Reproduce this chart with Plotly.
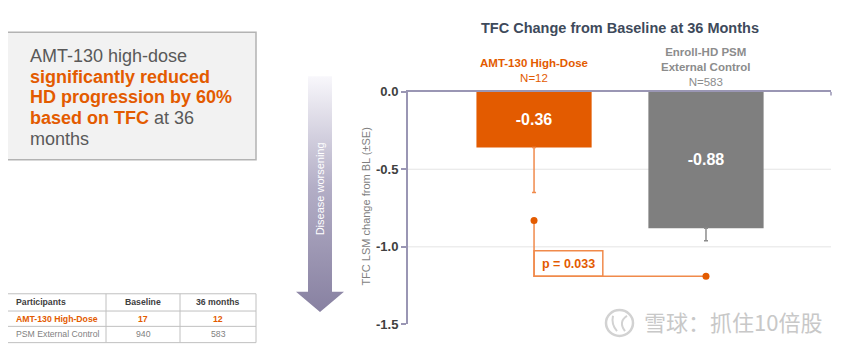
import plotly.graph_objects as go

W, H = 865, 357
OFF = 8  # page body margin seen in the screenshot

# ---------------- data ----------------
groups = ["AMT-130 High-Dose", "Enroll-HD PSM External Control"]
group_n = ["N=12", "N=583"]
tfc_change = [-0.36, -0.88]
tfc_se = [0.29, 0.08]
bar_labels = ["-0.36", "-0.88"]
y_tickvals = [0.0, -0.5, -1.0, -1.5]
y_ticktext = ["0.0", "-0.5", "-1.0", "-1.5"]
grid_vals = [-0.5, -1.0]
p_value_text = "p = 0.033"
bracket_top = -0.83
bracket_bottom = -1.19
table_header = ["Participants", "Baseline", "36 months"]
table_rows = [["AMT-130 High-Dose", "17", "12"],
              ["PSM External Control", "940", "583"]]
box_lines = [
    [("AMT-130 high-dose", False)],
    [("significantly reduced", True)],
    [("HD progression by 60%", True)],
    [("based on TFC", True), (" at 36", False)],
    [("months", False)],
]

# ---------------- styles ----------------
ORANGE = "#E35B00"
ORANGE_LIGHT = "#F08A4B"
GRAY_BAR = "#7F7F7F"
AXIS = "#9A96B4"
TXT = "#595959"
FONT = "Arial, Liberation Sans, sans-serif"


def px(x):
    return (x - OFF) / W


def py(y):
    return 1 - (y - OFF) / H


fig = go.Figure()

bar_colors = [ORANGE, GRAY_BAR]
err_colors = [ORANGE_LIGHT, "#8C8C8C"]
for i in range(2):
    fig.add_trace(go.Bar(
        x=[i], y=[tfc_change[i]], width=0.67,
        marker=dict(color=bar_colors[i], line=dict(width=0)),
        text=[bar_labels[i]], texttemplate="<b>%{text}</b>",
        textposition="inside", insidetextanchor="middle",
        textfont=dict(color="white", size=16, family=FONT),
        error_y=dict(type="data", symmetric=False, array=[0], arrayminus=[tfc_se[i]],
                     color=err_colors[i], thickness=1.5, width=2),
        hoverinfo="skip", showlegend=False,
    ))

# p-value bracket
fig.add_trace(go.Scatter(
    x=[0, 0, 1], y=[bracket_top, bracket_bottom, bracket_bottom], mode="lines",
    line=dict(color=ORANGE_LIGHT, width=1.5), hoverinfo="skip", showlegend=False))
fig.add_trace(go.Scatter(
    x=[0, 1], y=[bracket_top, bracket_bottom], mode="markers",
    marker=dict(color=ORANGE, size=7), hoverinfo="skip", showlegend=False))

# gradient arrow (decoration) in pixel-space axes
ax_x = [308, 332, 332, 344, 320, 296, 308, 308]
ax_y = [72, 72, 297, 297, 318, 297, 297, 72]
fig.add_trace(go.Scatter(
    x=ax_x, y=ax_y, xaxis="x2", yaxis="y2", mode="lines", fill="toself",
    line=dict(color="rgba(0,0,0,0)", width=0),
    fillgradient=dict(type="vertical", start=72, stop=318,
                      colorscale=[[0, "#F8F7FB"], [0.45, "#B3AEC6"], [1, "#847D9E"]]),
    hoverinfo="skip", showlegend=False))

shapes = []
annotations = []

# gridlines
for g in grid_vals:
    shapes.append(dict(type="line", xref="x domain", yref="y", x0=0, x1=1, y0=g, y1=g,
                       line=dict(color="#E4E4E4", width=1), layer="below"))
# small end tick at right end of the top axis line
shapes.append(dict(type="line", xref="x domain", yref="y", x0=1, x1=1, y0=0, y1=-0.025,
                   line=dict(color=AXIS, width=1.5)))

# p box
shapes.append(dict(type="rect", xref="x", yref="y", x0=0, x1=0.40, y0=bracket_bottom, y1=-1.025,
                   line=dict(color=ORANGE_LIGHT, width=1.5)))
annotations.append(dict(xref="x", yref="y", x=0.2, y=(bracket_bottom - 1.025) / 2,
                        text="<b>" + p_value_text + "</b>", showarrow=False,
                        font=dict(size=12.5, color=ORANGE, family=FONT)))

# title
annotations.append(dict(xref="paper", yref="paper", x=px(620), y=py(22),
                        text="<b>TFC Change from Baseline at 36 Months</b>", showarrow=False,
                        xanchor="center", yanchor="middle",
                        font=dict(size=14.5, color="#3E4A5B", family=FONT)))

# group headers
annotations.append(dict(xref="x", yref="paper", x=0, y=py(65.5),
                        text="<b>" + groups[0] + "</b><br>" + group_n[0], showarrow=False,
                        xanchor="center", yanchor="middle",
                        font=dict(size=11.5, color=ORANGE, family=FONT)))
annotations.append(dict(xref="x", yref="paper", x=1, y=py(62.5),
                        text="<b>Enroll-HD PSM<br>External Control</b><br>" + group_n[1],
                        showarrow=False, xanchor="center", yanchor="middle",
                        font=dict(size=11.5, color="#8C8C8C", family=FONT)))

# y axis title
annotations.append(dict(xref="paper", yref="paper", x=px(366), y=py(208),
                        text="TFC LSM change from BL (±SE)", textangle=-90, showarrow=False,
                        xanchor="center", yanchor="middle",
                        font=dict(size=11, color="#7F7F7F", family=FONT)))

# arrow text
annotations.append(dict(xref="paper", yref="paper", x=px(320), y=py(190),
                        text="Disease worsening", textangle=-90, showarrow=False,
                        xanchor="center", yanchor="middle",
                        font=dict(size=11, color="white", family=FONT)))

# left text box
shapes.append(dict(type="rect", xref="paper", yref="paper", x0=px(7), x1=px(256),
                   y0=py(159), y1=py(26), fillcolor="#F2F2F2",
                   line=dict(color="#B3B3B3", width=1.5), layer="below"))
baselines = [57, 78.5, 100, 121.5, 143]
for parts, base in zip(box_lines, baselines):
    txt = ""
    for s, hl in parts:
        if hl:
            txt += "<span style='color:%s'><b>%s</b></span>" % (ORANGE, s)
        else:
            txt += s
    annotations.append(dict(xref="paper", yref="paper", x=px(28), y=py(base - 6),
                            text=txt, showarrow=False, xanchor="left", yanchor="middle",
                            font=dict(size=18, color=TXT, family=FONT)))

# table
t_x = [7, 106, 180, 256]
t_y = [299, 317, 333, 350]
for xv in t_x:
    shapes.append(dict(type="line", xref="paper", yref="paper", x0=px(xv), x1=px(xv),
                       y0=py(t_y[0]), y1=py(t_y[-1]), line=dict(color="#C0C0C0", width=1)))
for yv in t_y:
    shapes.append(dict(type="line", xref="paper", yref="paper", x0=px(t_x[0]), x1=px(t_x[-1]),
                       y0=py(yv), y1=py(yv), line=dict(color="#C0C0C0", width=1)))
rows = [table_header] + table_rows
row_styles = [("#404040", True), (ORANGE, True), ("#7F7F7F", False)]
for r, (row, (col, bold)) in enumerate(zip(rows, row_styles)):
    yc = (t_y[r] + t_y[r + 1]) / 2
    for c, cell in enumerate(row):
        t = "<b>%s</b>" % cell if bold else cell
        if c == 0:
            annotations.append(dict(xref="paper", yref="paper", x=px(t_x[0] + 7), y=py(yc),
                                    text=t, showarrow=False, xanchor="left", yanchor="middle",
                                    font=dict(size=8.7, color=col, family=FONT)))
        else:
            annotations.append(dict(xref="paper", yref="paper",
                                    x=px((t_x[c] + t_x[c + 1]) / 2), y=py(yc),
                                    text=t, showarrow=False, xanchor="center", yanchor="middle",
                                    font=dict(size=8.7, color=col, family=FONT)))

# watermark (logo ring + inner strokes, text)
shapes.append(dict(type="circle", xref="paper", yref="paper", x0=px(606), x1=px(633),
                   y0=py(343), y1=py(316), line=dict(color="#D2D2D2", width=2.5)))
shapes.append(dict(type="path", xref="paper", yref="paper",
                   path="M %f,%f Q %f,%f %f,%f" % (px(613), py(322), px(611), py(331), px(617), py(338)),
                   line=dict(color="#D2D2D2", width=2)))
shapes.append(dict(type="path", xref="paper", yref="paper",
                   path="M %f,%f Q %f,%f %f,%f" % (px(627), py(322), px(618), py(328), px(625), py(338)),
                   line=dict(color="#D2D2D2", width=2)))
annotations.append(dict(xref="paper", yref="paper", x=px(642), y=py(327),
                        text="雪球：抓住10倍股", showarrow=False, xanchor="left", yanchor="middle",
                        font=dict(size=22, color="#C8C8C8", family="Noto Sans CJK SC")))
shapes.append(dict(type="line", xref="paper", yref="paper", x0=px(862), x1=px(862),
                   y0=0, y1=1, line=dict(color="#E6E6E6", width=1)))

fig.update_layout(
    width=W, height=H, margin=dict(l=0, r=0, t=0, b=0),
    paper_bgcolor="white", plot_bgcolor="rgba(0,0,0,0)",
    barmode="overlay", showlegend=False,
    font=dict(family=FONT),
    xaxis=dict(domain=[px(408), px(831)], range=[-0.733, 1.727], side="top",
               showline=True, linecolor=AXIS, linewidth=2, showticklabels=False,
               ticks="", showgrid=False, zeroline=False, fixedrange=True),
    yaxis=dict(domain=[py(331), py(88)], range=[-1.5, 0], tickvals=y_tickvals,
               ticktext=["<b>%s</b>" % t for t in y_ticktext],
               ticks="outside", ticklen=5, tickcolor=AXIS, tickwidth=1.5,
               showline=True, linecolor=AXIS, linewidth=2, showgrid=False,
               zeroline=False, tickfont=dict(size=13, color="#404040", family=FONT),
               fixedrange=True),
    xaxis2=dict(domain=[px(290), px(350)], range=[290, 350], visible=False,
                anchor="y2", fixedrange=True),
    yaxis2=dict(domain=[py(325), py(65)], range=[325, 65], visible=False,
                anchor="x2", fixedrange=True),
    shapes=shapes, annotations=annotations,
)

fig.write_html("out.html")
